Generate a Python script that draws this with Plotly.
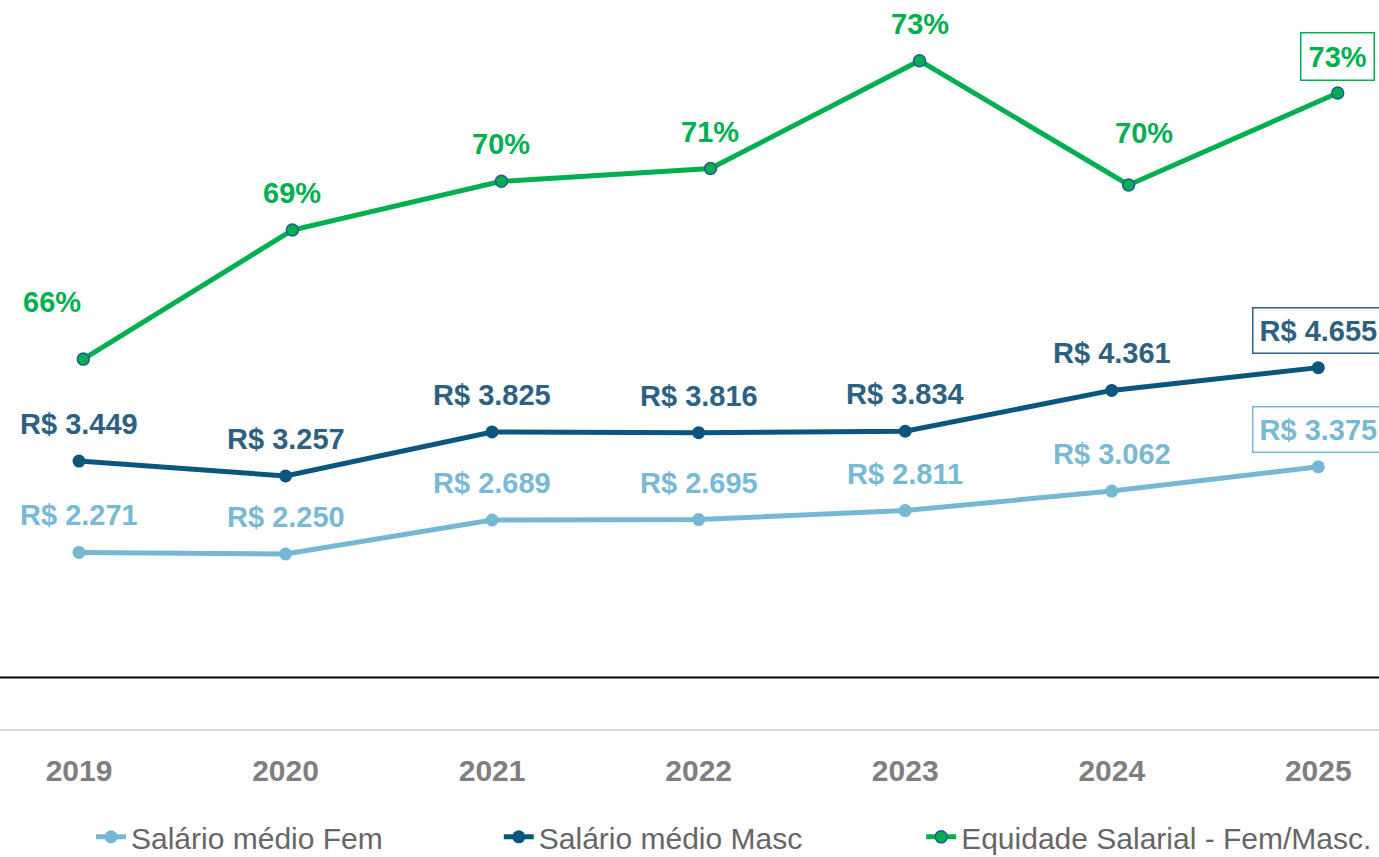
import plotly.graph_objects as go

# --- dados ---
anos = ["2019", "2020", "2021", "2022", "2023", "2024", "2025"]
salario_fem = [2271, 2250, 2689, 2695, 2811, 3062, 3375]
salario_masc = [3449, 3257, 3825, 3816, 3834, 4361, 4655]
equidade = [0.6585, 0.6908, 0.7030, 0.7062, 0.7332, 0.7021, 0.7251]

COR_FEM = "#76b8d3"
COR_FEM_TXT = "#78b9d5"
COR_MASC = "#0b567e"
COR_MASC_TXT = "#2d6183"
COR_EQ = "#00b050"
FONTE = "Liberation Sans"


def rotulo_salario(v):
    return "R$ " + f"{v:,}".replace(",", ".")


fig = go.Figure()

fig.add_trace(go.Scatter(
    x=anos, y=salario_fem, name="Salário médio Fem",
    mode="lines+markers", legend="legend",
    line=dict(color=COR_FEM, width=5),
    marker=dict(size=13, color=COR_FEM),
))
fig.add_trace(go.Scatter(
    x=anos, y=salario_masc, name="Salário médio Masc",
    mode="lines+markers", legend="legend2",
    line=dict(color=COR_MASC, width=5),
    marker=dict(size=13, color=COR_MASC),
))
fig.add_trace(go.Scatter(
    x=anos, y=equidade, name="Equidade Salarial - Fem/Masc.",
    mode="lines+markers", xaxis="x2", yaxis="y2", legend="legend3",
    line=dict(color=COR_EQ, width=5),
    marker=dict(size=12, color=COR_EQ, line=dict(color="#2b5797", width=1.5)),
))

anotacoes = []
ultimo = len(anos) - 1
for i, ano in enumerate(anos):
    caixa = i == ultimo
    for vals, cor in ((salario_fem, COR_FEM_TXT), (salario_masc, COR_MASC_TXT)):
        anotacoes.append(dict(
            x=i, y=vals[i], xref="x", yref="y",
            text=rotulo_salario(vals[i]), showarrow=False, yshift=37,
            font=dict(family=FONTE, size=29, color=cor, weight="bold"),
            bordercolor=cor if caixa else "rgba(0,0,0,0)",
            borderwidth=1.5 if caixa else 0, borderpad=6,
        ))
    # deslocamentos dos rótulos de equidade (2019 e 2024 ficam afastados)
    xs, ys = 0, 37
    if i == 0:
        xs, ys = -31, 57
    elif i == 5:
        xs, ys = 15, 52
    anotacoes.append(dict(
        x=i, y=equidade[i], xref="x2", yref="y2",
        text=f"{equidade[i]:.0%}", showarrow=False, xshift=xs, yshift=ys,
        font=dict(family=FONTE, size=29, color=COR_EQ, weight="bold"),
        bordercolor=COR_EQ if caixa else "rgba(0,0,0,0)",
        borderwidth=1.5 if caixa else 0, borderpad=7,
    ))

# legendas presas ao container para não empurrarem a margem inferior
leg = dict(
    orientation="h", xanchor="left", yref="container", y=0.0235, yanchor="middle",
    font=dict(family=FONTE, size=30, color="#666666"),
    bgcolor="rgba(0,0,0,0)",
)

fig.update_layout(
    width=1379, height=857,
    margin=dict(l=0, r=0, t=0, b=128),
    paper_bgcolor="white", plot_bgcolor="white",
    showlegend=True,
    legend=dict(leg, x=0.066),
    legend2=dict(leg, x=0.3617),
    legend3=dict(leg, x=0.668),
    xaxis=dict(
        type="category", range=[-0.3825, 6.2939],
        showgrid=False, zeroline=False,
        showline=True, linecolor="#d9d9d9", linewidth=2,
        ticks="outside", ticklen=14, tickcolor="rgba(0,0,0,0)",
        tickfont=dict(family=FONTE, size=30, color="#7f7f7f", weight="bold"),
    ),
    xaxis2=dict(
        type="category", overlaying="x", range=[-0.3984, 6.1976],
        visible=False,
    ),
    yaxis=dict(range=[-8, 9399], visible=False),
    yaxis2=dict(range=[0.5659, 0.7484], overlaying="y", visible=False),
    annotations=anotacoes,
    shapes=[dict(
        type="line", xref="paper", yref="paper", x0=0, x1=1, y0=0.0706, y1=0.0706,
        line=dict(color="black", width=2),
    )],
)

# a página padrão tem margem de 8px no body; zerada para o gráfico ocupar a janela
fig.write_html(
    "out.html",
    config={"displayModeBar": False},
    post_script="document.body.style.margin='0';document.body.style.overflow='hidden';",
)
